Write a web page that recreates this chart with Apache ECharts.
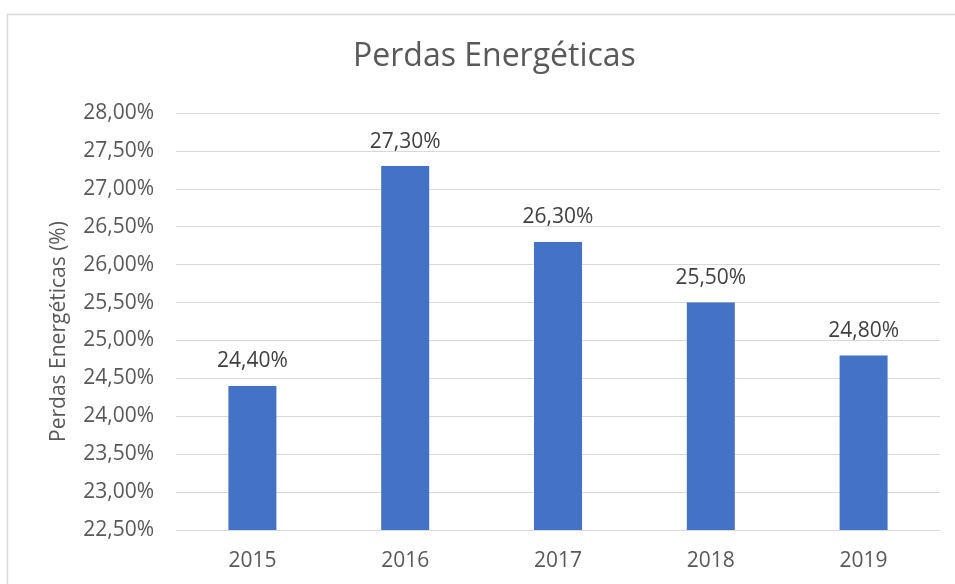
<!DOCTYPE html>
<html>
<head>
<meta charset="utf-8">
<script src="https://cdn.jsdelivr.net/npm/echarts@6/dist/echarts.min.js"></script>
<style>
  html, body { margin: 0; padding: 0; background: #fff; }
  #chart { width: 955px; height: 584px; }
</style>
</head>
<body>
<div id="chart"></div>
<script>
const years = ['2015', '2016', '2017', '2018', '2019'];
const losses = [24.4, 27.3, 26.3, 25.5, 24.8];

const fmtPct = v => v.toFixed(2).replace('.', ',') + '%';
const fontFamily = '"Open Sans", "Noto Sans", sans-serif';

const chart = echarts.init(document.getElementById('chart'));

const option = {
  backgroundColor: '#fff',
  animation: false,
  graphic: [{
    type: 'rect',
    shape: { x: 7.5, y: 14.5, width: 1000, height: 700 },
    style: { fill: 'none', stroke: '#d9d9d9', lineWidth: 1.5 },
    silent: true
  }],
  title: {
    text: 'Perdas Energéticas',
    left: 348,
    top: 36,
    textStyle: { fontFamily: fontFamily, fontSize: 32, fontWeight: 'normal', color: '#595959' }
  },
  grid: { left: 176, right: 15, top: 113, bottom: 54 },
  xAxis: {
    type: 'category',
    data: years,
    axisLine: { lineStyle: { color: '#d9d9d9' } },
    axisTick: { show: false },
    axisLabel: { fontFamily: fontFamily, fontSize: 21, color: '#595959', margin: 21 }
  },
  yAxis: {
    type: 'value',
    min: 22.5,
    max: 28,
    interval: 0.5,
    name: 'Perdas Energéticas (%)',
    nameLocation: 'middle',
    nameGap: 106,
    nameTextStyle: { fontFamily: fontFamily, fontSize: 21, color: '#595959', padding: [0, 20, 0, 0] },
    axisLine: { show: false },
    axisTick: { show: false },
    splitLine: { lineStyle: { color: '#d9d9d9', width: 1 } },
    axisLabel: { fontFamily: fontFamily, fontSize: 21, color: '#595959', margin: 22, formatter: fmtPct }
  },
  series: [{
    type: 'bar',
    data: losses,
    barWidth: 48,
    itemStyle: { color: '#4472c4' },
    label: {
      show: true,
      position: 'top',
      distance: 14,
      fontFamily: fontFamily,
      fontSize: 21,
      color: '#404040',
      formatter: p => fmtPct(p.value)
    }
  }]
};

chart.setOption(option);
</script>
</body>
</html>
